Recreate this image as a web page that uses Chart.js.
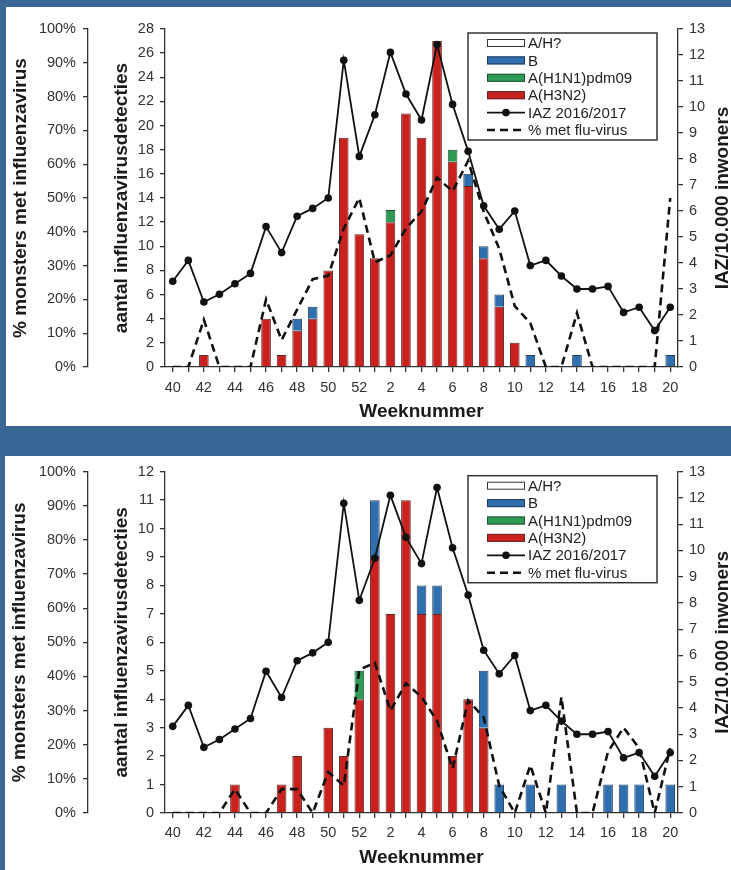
<!DOCTYPE html>
<html>
<head>
<meta charset="utf-8">
<script src="https://cdn.jsdelivr.net/npm/chart.js@4.4.1/dist/chart.umd.min.js"></script>
<style>
  html, body { margin: 0; padding: 0; background: #3a6796; }
  body { width: 731px; height: 870px; position: relative; overflow: hidden; }
  .panel { position: absolute; background: #fff; }
  #top { left: 6px; top: 7px; width: 725px; height: 419px; }
  #bottom { left: 5px; top: 456px; width: 726px; height: 414px; }
</style>
</head>
<body>
<div class="panel" id="top"><canvas id="chartTop" width="725" height="419"></canvas></div>
<div class="panel" id="bottom"><canvas id="chartBottom" width="726" height="414"></canvas></div>
<script>
// Week numbers, season 2016/2017
const weeks = [
  "40", "41", "42", "43", "44", "45", "46", "47", "48", "49", "50", "51", "52",
  "1", "2", "3", "4", "5", "6", "7", "8", "9", "10",
  "11", "12", "13", "14", "15", "16", "17", "18", "19", "20"
];

// IAZ per 10.000 inwoners (same line in both panels)
const iaz = [3.3, 4.1, 2.5, 2.8, 3.2, 3.6, 5.4, 4.4, 5.8, 6.1, 6.5, 11.8, 8.1,
  9.7, 12.1, 10.5, 9.5, 12.4, 10.1, 8.3, 6.2, 5.3, 6.0,
  3.9, 4.1, 3.5, 3.0, 3.0, 3.1, 2.1, 2.3, 1.4, 2.3];

// Top panel: detections per subtype
const h3n2Top = [0, 0, 1, 0, 0, 0, 4, 1, 3, 4, 8, 19, 11,
  9, 12, 21, 19, 27, 17, 15, 9, 5, 2,
  0, 0, 0, 0, 0, 0, 0, 0, 0, 0];
const h1n1Top = [0, 0, 0, 0, 0, 0, 0, 0, 0, 0, 0, 0, 0,
  0, 1, 0, 0, 0, 1, 0, 0, 0, 0,
  0, 0, 0, 0, 0, 0, 0, 0, 0, 0];
const bTop = [0, 0, 0, 0, 0, 0, 0, 0, 1, 1, 0, 0, 0,
  0, 0, 0, 0, 0, 0, 1, 1, 1, 0,
  1, 0, 0, 1, 0, 0, 0, 0, 0, 1];
const ahTop = [0, 0, 0, 0, 0, 0, 0, 0, 0, 0, 0, 0, 0,
  0, 0, 0, 0, 0, 0, 0, 0, 0, 0,
  0, 0, 0, 0, 0, 0, 0, 0, 0, 0];
const pctTop = [0, 0, 14, 0, 0, 0, 20, 8, 17, 26, 27, 41, 50,
  31, 33, 41, 46, 56, 52, 61, 46, 35, 18,
  13, 0, 0, 16, 0, 0, 0, 0, 0, 50];

// Bottom panel
const h3n2Bot = [0, 0, 0, 0, 1, 0, 0, 1, 2, 0, 3, 2, 4,
  9, 7, 11, 7, 7, 2, 4, 3, 0, 0,
  0, 0, 0, 0, 0, 0, 0, 0, 0, 0];
const h1n1Bot = [0, 0, 0, 0, 0, 0, 0, 0, 0, 0, 0, 0, 1,
  0, 0, 0, 0, 0, 0, 0, 0, 0, 0,
  0, 0, 0, 0, 0, 0, 0, 0, 0, 0];
const bBot = [0, 0, 0, 0, 0, 0, 0, 0, 0, 0, 0, 0, 0,
  2, 0, 0, 1, 1, 0, 0, 2, 1, 0,
  1, 0, 1, 0, 0, 1, 1, 1, 0, 1];
const ahBot = [0, 0, 0, 0, 0, 0, 0, 0, 0, 0, 0, 0, 0,
  0, 0, 0, 0, 0, 0, 0, 0, 0, 0,
  0, 0, 0, 0, 0, 0, 0, 0, 0, 0];
const pctBot = [0, 0, 0, 0, 7, 0, 0, 7, 7, 0, 12, 8, 42,
  44, 30, 38, 34, 27, 13, 33, 28, 8, 0,
  14, 0, 34, 0, 0, 18, 25, 19, 0, 19];

const legendOrder = ["A/H?", "B", "A(H1N1)pdm09", "A(H3N2)", "IAZ 2016/2017", "% met flu-virus"];

const FONT = '"Liberation Sans", Arial, sans-serif';
Chart.defaults.font.family = FONT;
Chart.defaults.color = "#333";

// Boxed legend inside the plot + right axis title (reads bottom to top)
const boxLegend = {
  id: "boxLegend",
  afterDraw(chart, args, opts) {
    const { ctx, chartArea } = chart;
    const w = 189, h = 107;
    const x0 = chartArea.right - opts.right - w;
    const y0 = chartArea.top + opts.top;
    ctx.save();
    ctx.fillStyle = "#fff";
    ctx.fillRect(x0, y0, w, h);
    ctx.strokeStyle = "#333";
    ctx.lineWidth = 1.5;
    ctx.strokeRect(x0, y0, w, h);

    legendOrder.forEach((label, i) => {
      const ds = chart.data.datasets.find((d) => d.label === label);
      const cy = y0 + 10 + i * 17.4;
      const sx = x0 + 19, sw = 38;
      if (ds.type === "line") {
        ctx.strokeStyle = ds.borderColor;
        ctx.lineWidth = ds.borderWidth;
        ctx.setLineDash(ds.borderDash || []);
        ctx.beginPath();
        ctx.moveTo(sx, cy);
        ctx.lineTo(sx + sw, cy);
        ctx.stroke();
        ctx.setLineDash([]);
        if (ds.pointRadius > 0) {
          ctx.fillStyle = ds.pointBackgroundColor;
          ctx.beginPath();
          ctx.arc(sx + sw / 2, cy, ds.pointRadius, 0, Math.PI * 2);
          ctx.fill();
        }
      } else {
        ctx.fillStyle = ds.backgroundColor;
        ctx.fillRect(sx, cy - 4, sw, 8);
        ctx.strokeStyle = ds.borderColor;
        ctx.lineWidth = 1;
        ctx.strokeRect(sx + 0.5, cy - 3.5, sw - 1, 7);
      }
      ctx.fillStyle = "#222";
      ctx.font = "15px " + FONT;
      ctx.textAlign = "left";
      ctx.textBaseline = "middle";
      ctx.fillText(label, x0 + 60, cy + 1);
    });

    // right axis title
    ctx.translate(chartArea.right + opts.rTitle, (chartArea.top + chartArea.bottom) / 2);
    ctx.rotate(-Math.PI / 2);
    ctx.fillStyle = "#1a1a1a";
    ctx.font = "bold 19px " + FONT;
    ctx.textAlign = "center";
    ctx.textBaseline = "middle";
    ctx.fillText("IAZ/10.000 inwoners", 0, 0);
    ctx.restore();
  }
};

const axisLine = { display: true, color: "#333", width: 1.3 };
const tickGrid = { display: true, drawOnChartArea: false, drawTicks: true, tickLength: 5, color: "#333", lineWidth: 1.3 };
const tickFont = { size: 14.5 };

const makeChart = (canvas, d, lay) => new Chart(canvas, {
  type: "bar",
  plugins: [boxLegend],
  data: {
    labels: weeks,
    datasets: [
      {
        type: "line", label: "IAZ 2016/2017", data: iaz, yAxisID: "yR",
        borderColor: "#111", borderWidth: 1.8, tension: 0,
        pointRadius: 3.8, pointBackgroundColor: "#111", pointBorderWidth: 0
      },
      {
        type: "line", label: "% met flu-virus", data: d.pct, yAxisID: "yP",
        borderColor: "#111", borderWidth: 2.6, borderDash: [8, 5], tension: 0,
        pointRadius: 0
      },
      { label: "A(H3N2)", data: d.h3n2, yAxisID: "y", backgroundColor: "#c9211e", borderColor: "#5e2a28" },
      { label: "A(H1N1)pdm09", data: d.h1n1, yAxisID: "y", backgroundColor: "#2f9a55", borderColor: "#245236" },
      { label: "B", data: d.b, yAxisID: "y", backgroundColor: "#2f6fae", borderColor: "#203c5c" },
      { label: "A/H?", data: d.ah, yAxisID: "y", backgroundColor: "#ffffff", borderColor: "#333333" }
    ]
  },
  options: {
    responsive: false,
    devicePixelRatio: 1,
    animation: false,
    layout: { padding: { left: 0, right: 0, top: lay.top, bottom: 0 } },
    datasets: {
      bar: { borderWidth: 1, barPercentage: 0.62, categoryPercentage: 1, inflateAmount: 0 }
    },
    plugins: {
      legend: { display: false },
      tooltip: { enabled: false },
      boxLegend: { right: 21, top: lay.legendTop, rTitle: lay.rTitle }
    },
    scales: {
      x: {
        stacked: true,
        grid: { ...tickGrid, offset: false },
        border: axisLine,
        ticks: {
          autoSkip: false, maxRotation: 0, padding: lay.xTickPad, color: "#333", font: tickFont,
          callback: (v, i) => (i % 2 === 0 ? weeks[i] : "")
        },
        title: {
          display: true, text: "Weeknummer", color: "#1a1a1a",
          font: { size: 19, weight: "bold" }, padding: { top: 0, bottom: lay.xTitlePad }
        },
        afterFit: (s) => { s.height = lay.xH; }
      },
      yP: {
        position: "left", weight: 2, min: 0, max: 100,
        grid: tickGrid, border: axisLine,
        ticks: { stepSize: 10, padding: 7, color: "#333", font: tickFont, callback: (v) => v + "%" },
        title: {
          display: true, text: "% monsters met influenzavirus", color: "#1a1a1a",
          font: { size: 19, weight: "bold" }, padding: { top: 3.5, bottom: 0 }
        },
        afterFit: (s) => { s.width = lay.pW; }
      },
      y: {
        position: "left", weight: 1, stacked: true, min: 0, max: d.countMax,
        grid: tickGrid, border: axisLine,
        ticks: { stepSize: d.countStep, padding: 6, color: "#333", font: tickFont },
        title: {
          display: true, text: "aantal influenzavirusdetecties", color: "#1a1a1a",
          font: { size: 19, weight: "bold" }, padding: { top: 22.5, bottom: 0 }
        },
        afterFit: (s) => { s.width = lay.cW; }
      },
      yR: {
        position: "right", min: 0, max: 13,
        grid: tickGrid, border: axisLine,
        ticks: { stepSize: 1, padding: 6, color: "#333", font: tickFont },
        afterFit: (s) => { s.width = lay.rW; }
      }
    }
  }
});

makeChart(document.getElementById("chartTop"),
  { h3n2: h3n2Top, h1n1: h1n1Top, b: bTop, ah: ahTop, pct: pctTop, countMax: 28, countStep: 2 },
  { top: 22, xH: 59, pW: 82, cW: 77, rW: 53, xTickPad: 7, xTitlePad: 2.6, legendTop: 4, rTitle: 45 });

makeChart(document.getElementById("chartBottom"),
  { h3n2: h3n2Bot, h1n1: h1n1Bot, b: bBot, ah: ahBot, pct: pctBot, countMax: 12, countStep: 1 },
  { top: 11, xH: 57, pW: 83, cW: 77, rW: 53, xTickPad: 6, xTitlePad: 0.6, legendTop: 4, rTitle: 45 });
</script>
</body>
</html>
